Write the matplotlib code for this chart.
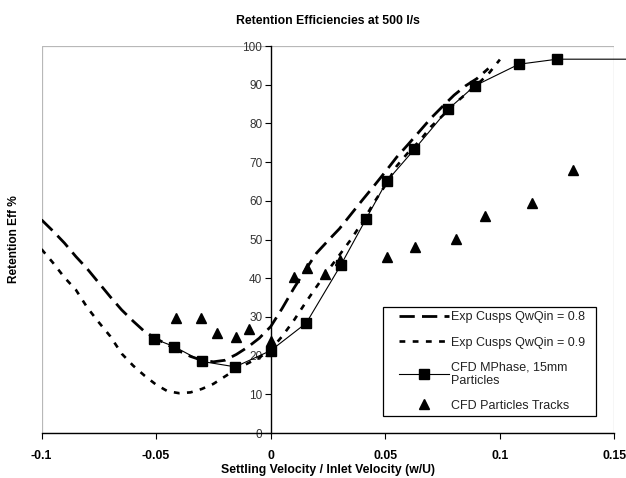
import matplotlib
matplotlib.use("Agg")
import matplotlib.pyplot as plt
from matplotlib.patches import Rectangle
from matplotlib.lines import Line2D
from matplotlib.legend_handler import HandlerLine2D

# ---------------- data ----------------
exp08_x = [-0.100, -0.095, -0.090, -0.085, -0.080, -0.075, -0.070, -0.065, -0.060, -0.055,
           -0.050, -0.045, -0.040, -0.035, -0.030, -0.025, -0.020, -0.015, -0.010, -0.005,
           0.000, 0.005, 0.010, 0.015, 0.020, 0.025, 0.030, 0.035, 0.040, 0.045,
           0.050, 0.055, 0.060, 0.065, 0.070, 0.075, 0.080, 0.085, 0.090, 0.095]
exp08_y = [55.1, 52.2, 49.1, 45.6, 42.4, 38.8, 35.2, 31.8, 28.9, 26.2,
           24.4, 22.8, 21.2, 19.8, 18.8, 18.4, 18.8, 20.3, 22.2, 24.5,
           27.5, 32.2, 37.3, 42.0, 46.5, 49.7, 52.8, 56.5, 60.2, 63.8,
           67.5, 71.3, 74.6, 78.0, 81.4, 84.4, 87.3, 89.7, 91.6, 94.2]

exp09_x = [-0.100, -0.095, -0.090, -0.085, -0.080, -0.075, -0.070, -0.065, -0.060, -0.055,
           -0.050, -0.045, -0.040, -0.035, -0.030, -0.025, -0.020, -0.015, -0.010, -0.005,
           0.000, 0.005, 0.010, 0.015, 0.020, 0.025, 0.030, 0.035, 0.040, 0.045,
           0.050, 0.055, 0.060, 0.065, 0.070, 0.075, 0.080, 0.085, 0.090, 0.095, 0.100]
exp09_y = [47.5, 44.0, 40.2, 37.0, 32.4, 28.6, 25.0, 20.5, 17.4, 14.8,
           12.5, 10.8, 10.3, 10.5, 11.4, 12.7, 14.6, 16.5, 18.0, 19.5,
           21.5, 25.0, 29.0, 33.5, 37.8, 42.0, 46.0, 50.0, 54.5, 59.5,
           64.0, 69.0, 72.5, 75.5, 79.2, 82.0, 85.0, 87.5, 90.0, 92.8, 96.5]

cfd_x = [-0.051, -0.042, -0.030, -0.0155, 0.000, 0.0155, 0.0305, 0.0415, 0.0507,
         0.0627, 0.0773, 0.0890, 0.1083, 0.1250, 0.1700]
cfd_y = [24.4, 22.3, 18.5, 17.1, 21.3, 28.4, 43.3, 55.2, 65.1,
         73.3, 83.6, 89.7, 95.3, 96.6, 96.6]

tracks_x = [-0.0415, -0.0305, -0.0235, -0.0153, -0.0095, 0.000, 0.0102, 0.0157, 0.0239,
            0.0302, 0.0507, 0.0630, 0.0807, 0.0935, 0.1138, 0.1319]
tracks_y = [29.8, 29.8, 25.8, 24.7, 27.0, 23.8, 40.3, 42.6, 41.2,
            44.7, 45.6, 48.0, 50.1, 56.1, 59.5, 68.0]

x_ticks = [-0.1, -0.05, 0, 0.05, 0.1, 0.15]
x_tick_labels = ["-0.1", "-0.05", "0", "0.05", "0.1", "0.15"]
y_ticks = [0, 10, 20, 30, 40, 50, 60, 70, 80, 90, 100]

title = "Retention Efficiencies at 500 l/s"
xlabel = "Settling Velocity / Inlet Velocity (w/U)"
ylabel = "Retention Eff %"
labels = ["Exp Cusps QwQin = 0.8", "Exp Cusps QwQin = 0.9",
          "CFD MPhase, 15mm\nParticles", "CFD Particles Tracks"]

# ---------------- figure ----------------
plt.rcParams['font.family'] = ['Liberation Sans', 'DejaVu Sans']
fig = plt.figure(figsize=(6.26, 4.78), dpi=100)
ax = fig.add_axes([0.0663, 0.0941, 0.9153, 0.8096])
ax.set_xlim(-0.1, 0.15)
ax.set_ylim(0, 100)

# light gray frame
ax.add_patch(Rectangle((0, 0), 1, 1, transform=ax.transAxes, fill=False,
                       edgecolor='#b8b8b8', linewidth=0.9, zorder=0.5))

l1, = ax.plot(exp08_x, exp08_y, color='black', linewidth=2.0,
              dashes=(5.5, 2.6), dash_capstyle='butt', zorder=3)
l2, = ax.plot(exp09_x, exp09_y, color='black', linewidth=1.9,
              dashes=(2.2, 2.8), dash_capstyle='butt', zorder=3)
l3, = ax.plot(cfd_x, cfd_y, color='black', linewidth=0.8, marker='s',
              markersize=6.5, markevery=list(range(len(cfd_x) - 1)), zorder=4,
              clip_on=False)
l4, = ax.plot(tracks_x, tracks_y, linestyle='none', color='black', marker='^',
              markersize=7.5, zorder=4)

# axes spines
for s in ('top', 'right'):
    ax.spines[s].set_visible(False)
ax.spines['left'].set_position(('data', 0))
ax.spines['left'].set_color('black')
ax.spines['left'].set_linewidth(1.0)
ax.spines['bottom'].set_color('black')
ax.spines['bottom'].set_linewidth(1.0)

ax.set_xticks(x_ticks)
ax.set_xticklabels(x_tick_labels, fontsize=8.8, fontweight='bold')
ax.set_yticks(y_ticks)
ax.tick_params(axis='y', direction='out', length=4, width=0.8, pad=2,
               labelsize=8.5, labelcolor='#333333')
ax.tick_params(axis='x', direction='out', length=4, width=0.8, pad=8)

ax.set_title(title, fontsize=8.8, fontweight='bold', pad=16)
ax.set_xlabel(xlabel, fontsize=8.8, fontweight='bold', labelpad=1.5)
ax.set_ylabel(ylabel, fontsize=8.6, fontweight='bold')
ax.yaxis.set_label_coords(-0.038, 0.5)

leg = ax.legend([l1, l2, l3, l4], labels, loc='upper left',
                bbox_to_anchor=(0.596, 0.05, 0.372, 0.2756), mode='expand',
                borderaxespad=0, fancybox=False, framealpha=1,
                edgecolor='black', fontsize=9, handlelength=4.9,
                handletextpad=0.2, labelspacing=1.05, borderpad=0.35,
                handler_map={Line2D: HandlerLine2D(xpad=0.9)})
leg.get_frame().set_linewidth(0.9)
for t in leg.get_texts():
    t.set_linespacing(1.1)
    t.set_color('#222222')

fig.savefig("out.png", dpi=100)
